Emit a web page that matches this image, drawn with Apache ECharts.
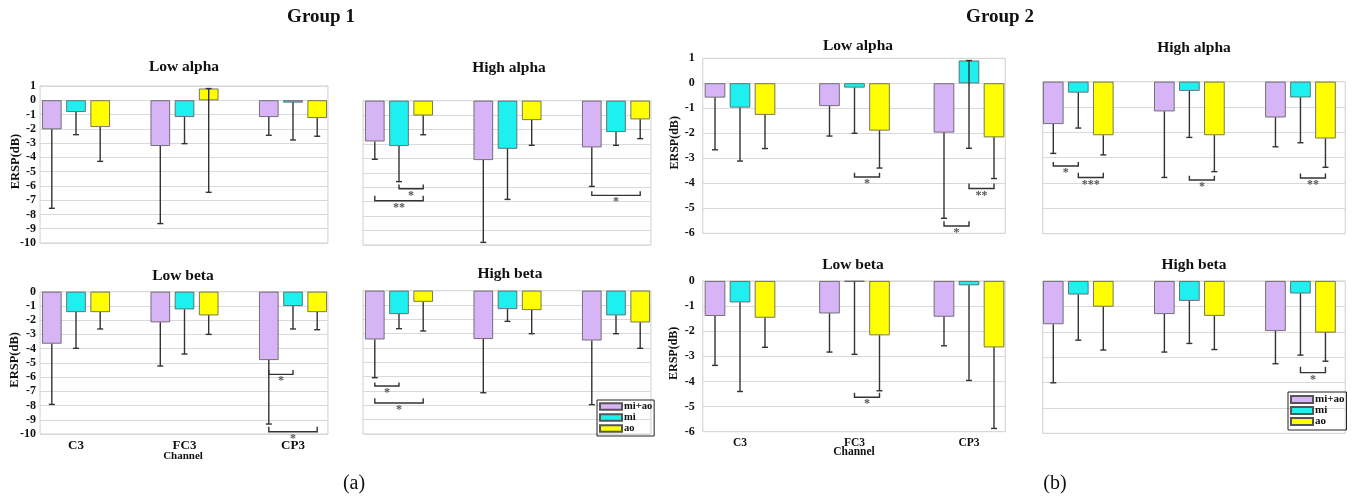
<!DOCTYPE html>
<html>
<head>
<meta charset="utf-8">
<script src="https://cdn.jsdelivr.net/npm/echarts@6/dist/echarts.min.js"></script>
<style>html,body{margin:0;padding:0;background:#fff}#c{width:1356px;height:497px}</style>
</head>
<body>
<div id="c"></div>
<script>
// ---------- DATA ----------
const categories = ['C3', 'FC3', 'CP3'];
const seriesNames = ['mi+ao', 'mi', 'ao'];
const yAxisTitle = 'ERSP(dB)';
const xAxisTitle = 'Channel';

// Group 1 (means: [mi+ao], [mi], [ao] per channel C3, FC3, CP3; err = lower end of error bar)
const g1LowAlphaMean = [[-2.03, -3.2, -1.17], [-0.82, -1.17, -0.16], [-1.87, 0.82, -1.24]];
const g1LowAlphaErr  = [[-7.57, -8.64, -2.45], [-2.41, -3.04, -2.78], [-4.28, -6.45, -2.52]];
const g1LowAlphaSig  = [];

const g1HighAlphaMean = [[-2.82, -4.11, -3.23], [-3.14, -3.33, -2.17], [-1.02, -1.34, -1.29]];
const g1HighAlphaErr  = [[-4.06, -9.82, -5.94], [-5.61, -6.84, -3.09], [-2.36, -3.09, -2.63]];
const g1HighAlphaSig  = [[0, 1, 2, -6.1, -5.8, '*'], [0, 0, 2, -6.93, -6.58, '**'], [2, 0, 2, -6.56, -6.28, '*']];

const g1LowBetaMean = [[-3.65, -2.15, -4.8], [-1.43, -1.24, -1.0], [-1.43, -1.66, -1.43]];
const g1LowBetaErr  = [[-7.92, -5.22, -9.3], [-3.98, -4.38, -2.62], [-2.62, -3.0, -2.67]];
const g1LowBetaSig  = [[2, 0, 1, -5.81, -5.5, '*'], [2, 0, 2, -9.84, -9.49, '*']];

const g1HighBetaMean = [[-3.4, -3.37, -3.47], [-1.63, -1.28, -1.72], [-0.77, -1.35, -2.21]];
const g1HighBetaErr  = [[-6.07, -7.12, -7.95], [-2.65, -2.14, -3.0], [-2.81, -3.0, -4.02]];
const g1HighBetaSig  = [[0, 0, 1, -6.65, -6.4, '*'], [0, 0, 2, -7.84, -7.51, '*']];

// Group 2
const g2LowAlphaMean = [[-0.57, -0.91, -1.97], [-0.97, -0.17, 0.91], [-1.26, -1.89, -2.16]];
const g2LowAlphaErr  = [[-2.66, -2.11, -5.4], [-3.11, -2.0, -2.6], [-2.61, -3.39, -3.81]];
const g2LowAlphaSig  = [[1, 1, 2, -3.75, -3.58, '*'], [2, 0, 1, -5.71, -5.52, '*'], [2, 1, 2, -4.21, -4.01, '**']];

const g2HighAlphaMean = [[-1.67, -1.17, -1.41], [-0.43, -0.36, -0.62], [-2.11, -2.11, -2.24]];
const g2HighAlphaErr  = [[-2.83, -3.78, -2.57], [-1.83, -2.2, -2.41], [-2.89, -3.55, -3.38]];
const g2HighAlphaSig  = [[0, 0, 1, -3.33, -3.17, '*'], [0, 1, 2, -3.78, -3.59, '***'], [1, 1, 2, -3.88, -3.71, '*'], [2, 1, 2, -3.8, -3.62, '**']];

const g2LowBetaMean = [[-1.39, -1.29, -1.42], [-0.85, -0.02, -0.17], [-1.46, -2.16, -2.64]];
const g2LowBetaErr  = [[-3.36, -2.83, -2.58], [-4.4, -2.92, -3.96], [-2.64, -4.37, -5.87]];
const g2LowBetaSig  = [[1, 1, 2, -4.63, -4.45, '*']];

const g2HighBetaMean = [[-1.7, -1.3, -1.97], [-0.53, -0.78, -0.49], [-1.01, -1.37, -2.03]];
const g2HighBetaErr  = [[-4.01, -2.8, -3.26], [-2.33, -2.46, -2.92], [-2.72, -2.7, -3.16]];
const g2HighBetaSig  = [[2, 1, 2, -3.61, -3.38, '*']];

// ---------- LAYOUT / STYLE ----------
const FONT = '"Liberation Serif", "DejaVu Serif", serif';
const COLORS = ['#D7B4F6', '#1EF0F0', '#FFFF00'];

const panels = [
  {mean: g1LowAlphaMean,  err: g1LowAlphaErr,  sig: g1LowAlphaSig,  title: 'Low alpha',  centers: [76, 184.5, 293],   top: 86,    bottom: 243,   min: -10, max: 1, bw: 19.5, sp: 24.2, yLab: true,  xLab: false, tx: 184,  ty: 67,  lm: 4, nx: 16, nf: 12.5, xf: 13},
  {mean: g1HighAlphaMean, err: g1HighAlphaErr, sig: g1HighAlphaSig, title: 'High alpha', centers: [399, 507.5, 616],  top: 100.7, bottom: 245,   min: -10, max: 0, bw: 19.5, sp: 24.2, yLab: false, xLab: false, tx: 509,  ty: 68},
  {mean: g1LowBetaMean,   err: g1LowBetaErr,   sig: g1LowBetaSig,   title: 'Low beta',   centers: [76, 184.5, 293],   top: 291.7, bottom: 434,   min: -10, max: 0, bw: 19.5, sp: 24.2, yLab: true,  xLab: true,  tx: 183,  ty: 276, lm: 4, nx: 15, nf: 12.5, xf: 13},
  {mean: g1HighBetaMean,  err: g1HighBetaErr,  sig: g1HighBetaSig,  title: 'High beta',  centers: [399, 507.5, 616],  top: 290.7, bottom: 434,   min: -10, max: 0, bw: 19.5, sp: 24.2, yLab: false, xLab: false, tx: 510,  ty: 274},
  {mean: g2LowAlphaMean,  err: g2LowAlphaErr,  sig: g2LowAlphaSig,  title: 'Low alpha',  centers: [740, 854.5, 969],  top: 58.3,  bottom: 233.3, min: -6,  max: 1, bw: 20.5, sp: 25,   yLab: true,  xLab: false, tx: 858,  ty: 46,  lm: 8, nx: 675, nf: 12, xf: 11.5},
  {mean: g2HighAlphaMean, err: g2HighAlphaErr, sig: g2HighAlphaSig, title: 'High alpha', centers: [1080, 1194.5, 1309], top: 81.7, bottom: 233.7, min: -6,  max: 0, bw: 20.5, sp: 25,   yLab: false, xLab: false, tx: 1194, ty: 48},
  {mean: g2LowBetaMean,   err: g2LowBetaErr,   sig: g2LowBetaSig,   title: 'Low beta',   centers: [740, 854.5, 969],  top: 281,   bottom: 431.7, min: -6,  max: 0, bw: 20.5, sp: 25,   yLab: true,  xLab: true,  tx: 853,  ty: 265, lm: 8, nx: 674, nf: 12, xf: 11.5},
  {mean: g2HighBetaMean,  err: g2HighBetaErr,  sig: g2HighBetaSig,  title: 'High beta',  centers: [1080, 1194.5, 1309], top: 281,  bottom: 433.3, min: -6,  max: 0, bw: 20.5, sp: 25,   yLab: false, xLab: false, tx: 1194, ty: 265}
];

const option = {
  animation: false,
  backgroundColor: '#ffffff',
  grid: [], xAxis: [], yAxis: [], series: [],
  legend: [
    {data: seriesNames, orient: 'vertical', left: 597, top: 400, itemWidth: 22, itemHeight: 6.5, itemGap: 0,
     icon: 'rect', selectedMode: false, borderColor: '#222', borderWidth: 1, padding: [1, 2, 2, 2],
     textStyle: {fontFamily: FONT, fontWeight: 'bold', fontSize: 10.5, color: '#111', lineHeight: 9.3, padding: [0, 0, 0, -3]}},
    {data: seriesNames, orient: 'vertical', left: 1288, top: 392, itemWidth: 22, itemHeight: 7, itemGap: 0,
     icon: 'rect', selectedMode: false, borderColor: '#222', borderWidth: 1, padding: [2, 2, 3, 2],
     textStyle: {fontFamily: FONT, fontWeight: 'bold', fontSize: 11, color: '#111', lineHeight: 10.2, padding: [0, 0, 0, -3]}}
  ],
  graphic: []
};

panels.forEach((p, i) => {
  const band = p.centers[1] - p.centers[0];
  const h = p.bottom - p.top;
  const bgLeft = p.centers[0] - p.sp - p.bw / 2 - 2;
  const bgRight = p.centers[2] + p.sp + p.bw / 2 + 1;
  const gBg = 2 * i, gBar = 2 * i + 1;

  // background grid with y labels and gridlines
  option.grid.push({left: bgLeft, top: p.top, width: bgRight - bgLeft, height: h, show: true, borderColor: '#cfcfcf', borderWidth: 1, backgroundColor: 'transparent'});
  option.xAxis.push({gridIndex: gBg, type: 'value', min: 0, max: 1, show: false});
  option.yAxis.push({
    gridIndex: gBg, type: 'value', min: p.min, max: p.max, interval: 1,
    axisLine: {show: false}, axisTick: {show: false},
    axisLabel: {show: p.yLab, fontFamily: FONT, fontWeight: 'bold', fontSize: 12, color: '#111', margin: p.lm || 4},
    splitLine: {show: true, lineStyle: {color: '#d9d9d9', width: 1}}
  });

  // bar grid (full category bands)
  option.grid.push({left: p.centers[0] - band / 2, top: p.top, width: band * 3, height: h, show: false});
  option.xAxis.push({
    gridIndex: gBar, type: 'category', data: categories,
    axisLine: {show: false},
    axisTick: {show: true, alignWithLabel: true, length: 3, lineStyle: {color: '#bbbbbb'}},
    axisLabel: {show: p.xLab, fontFamily: FONT, fontWeight: 'bold', fontSize: p.xf || 12, color: '#111', margin: 5}
  });
  option.yAxis.push({gridIndex: gBar, type: 'value', min: p.min, max: p.max, show: false});

  const gapPct = ((p.sp - p.bw) / p.bw * 100).toFixed(1) + '%';
  seriesNames.forEach((name, s) => {
    option.series.push({
      type: 'bar', name: name, xAxisIndex: gBar, yAxisIndex: gBar,
      data: p.mean[s], barWidth: p.bw, barGap: gapPct, z: 2,
      itemStyle: {color: COLORS[s], borderColor: '#555', borderWidth: 0.8}
    });
  });

  // error bars (lower side, mean -> mean - sd)
  const errData = [];
  for (let s = 0; s < 3; s++) for (let c = 0; c < 3; c++) errData.push([c, s, p.mean[s][c], p.err[s][c]]);
  const sp = p.sp;
  option.series.push({
    type: 'custom', name: 'err' + i, xAxisIndex: gBar, yAxisIndex: gBar, z: 4, clip: false,
    encode: {x: 0, y: [2, 3]}, data: errData, silent: true,
    renderItem: function (params, api) {
      const c = api.value(0), s = api.value(1);
      let top = api.value(2);
      if (top > p.max) top = p.max;
      const a = api.coord([c, top]);
      const b = api.coord([c, api.value(3)]);
      const x = a[0] + (s - 1) * sp;
      const st = {stroke: '#333', lineWidth: 1.4};
      const children = [
        {type: 'line', shape: {x1: x, y1: a[1], x2: x, y2: b[1]}, style: st},
        {type: 'line', shape: {x1: x - 3, y1: b[1], x2: x + 3, y2: b[1]}, style: st}
      ];
      if (api.value(2) > 0) children.push({type: 'line', shape: {x1: x - 3, y1: a[1], x2: x + 3, y2: a[1]}, style: st});
      return {type: 'group', children: children};
    }
  });

  // significance brackets
  if (p.sig.length) {
    const sig = p.sig;
    option.series.push({
      type: 'custom', name: 'sig' + i, xAxisIndex: gBar, yAxisIndex: gBar, z: 5, clip: false, silent: true,
      encode: {x: 0, y: 1}, data: sig.map(b => [b[0], b[3]]),
      renderItem: function (params, api) {
        const b = sig[params.dataIndex];
        const base = api.coord([b[0], b[3]]);
        const tip = api.coord([b[0], b[4]]);
        const xa = base[0] + (b[1] - 1) * sp;
        const xb = base[0] + (b[2] - 1) * sp;
        return {type: 'group', children: [
          {type: 'polyline', shape: {points: [[xa, tip[1]], [xa, base[1]], [xb, base[1]], [xb, tip[1]]]}, style: {stroke: '#333', lineWidth: 1.4, fill: null}},
          {type: 'text', x: (xa + xb) / 2, y: base[1] + 1, style: {text: b[5], align: 'center', verticalAlign: 'top', fontFamily: FONT, fontSize: 12, fontWeight: 'bold', fill: '#555'}}
        ]};
      }
    });
  }

  option.graphic.push({type: 'text', x: p.tx, y: p.ty, style: {text: p.title, align: 'center', verticalAlign: 'middle', fontFamily: FONT, fontSize: 15.5, fontWeight: 'bold', fill: '#111'}});
  if (p.yLab) {
    option.graphic.push({type: 'text', x: p.nx, y: p.top + h / 2 - 3, rotation: Math.PI / 2,
      style: {text: yAxisTitle, align: 'center', verticalAlign: 'middle', fontFamily: FONT, fontSize: p.nf, fontWeight: 'bold', fill: '#111'}});
  }
});

const texts = [
  ['Group 1', 321, 17, 19, 'bold'],
  ['Group 2', 1000, 17, 19, 'bold'],
  [xAxisTitle, 183, 456, 11, 'bold'],
  [xAxisTitle, 854, 452, 11.5, 'bold'],
  ['(a)', 354, 484, 20, 'normal'],
  ['(b)', 1055, 484, 20, 'normal']
];
texts.forEach(t => option.graphic.push({type: 'text', x: t[1], y: t[2], style: {text: t[0], align: 'center', verticalAlign: 'middle', fontFamily: FONT, fontSize: t[3], fontWeight: t[4], fill: '#111'}}));

const chart = echarts.init(document.getElementById('c'), null, {renderer: 'canvas'});
chart.setOption(option);
</script>
</body>
</html>
